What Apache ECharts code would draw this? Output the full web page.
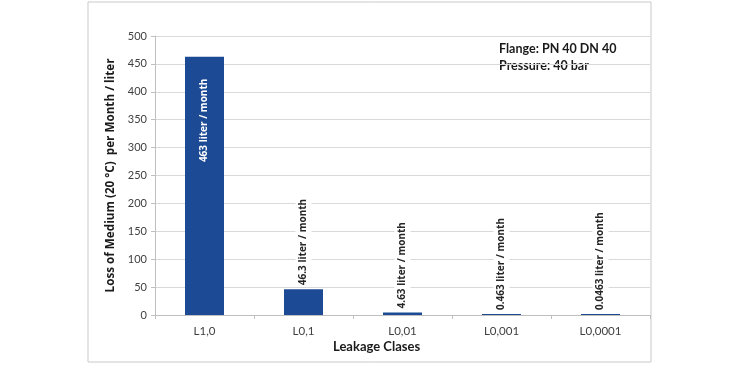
<!DOCTYPE html>
<html><head><meta charset="utf-8">
<script src="https://cdn.jsdelivr.net/npm/echarts@6/dist/echarts.min.js"></script>
<style>html,body{margin:0;padding:0;background:#fff}#c{width:730px;height:365px}</style>
</head><body><div id="c"></div>
<script>
const categories = ['L1,0', 'L0,1', 'L0,01', 'L0,001', 'L0,0001'];
const values = [463, 46.3, 4.63, 0.463, 0.0463];
const barLabels = ['463 liter / month', '46.3 liter / month', '4.63 liter / month', '0.463 liter / month', '0.0463 liter / month'];
const yTicks = [0, 50, 100, 150, 200, 250, 300, 350, 400, 450, 500];
const noteLines = ['Flange: PN 40 DN 40', 'Pressure: 40 bar'];

const chart = echarts.init(document.getElementById('c'), null, {renderer: 'canvas'});
const labelFont = 'Open Sans';
const data = values.map((v, i) => {
  if (i === 0) {
    return {value: v, label: {show: true, position: 'insideTop', rotate: 90, align: 'right', verticalAlign: 'middle', distance: 22,
      formatter: barLabels[i], color: '#ffffff', fontFamily: labelFont, fontWeight: 'bold', fontSize: 10}};
  }
  return {value: v, label: {show: true, position: 'top', rotate: 90, align: 'left', verticalAlign: 'middle', distance: 3,
    formatter: barLabels[i], color: '#262626', fontFamily: labelFont, fontWeight: 'bold', fontSize: 10,
    backgroundColor: '#ffffff', padding: [3, 1]}};
});
chart.setOption({
  animation: false,
  backgroundColor: '#ffffff',
  grid: {left: 155, right: 80, top: 36, bottom: 50},
  graphic: [
    {type: 'rect', shape: {x: 88, y: 2, width: 563, height: 360}, style: {fill: 'none', stroke: '#c9c9c9', lineWidth: 1}, z: 0},
    {type: 'text', left: 499, top: 42, style: {text: noteLines[0], font: 'bold 12.5px Lato', fill: '#1a1a1a'}},
    {type: 'text', left: 499, top: 59, style: {text: noteLines[1], font: 'bold 12.5px Lato', fill: '#1a1a1a'}},
    {type: 'text', left: 333, top: 340, style: {text: 'Leakage Clases', font: 'bold 13px Lato', fill: '#1a1a1a'}}
  ],
  xAxis: {
    type: 'category', data: categories,
    axisLine: {lineStyle: {color: '#bfbfbf'}},
    axisTick: {show: true, length: 4, lineStyle: {color: '#bfbfbf'}},
    axisLabel: {color: '#404040', fontFamily: 'Lato', fontSize: 11.5, margin: 10}
  },
  yAxis: {
    type: 'value', min: yTicks[0], max: yTicks[yTicks.length - 1], interval: 50,
    name: 'Loss of Medium (20 °C)  per Month / liter', nameLocation: 'middle', nameGap: 36,
    nameTextStyle: {fontFamily: 'Open Sans', fontWeight: 'bold', fontSize: 11.7, color: '#1a1a1a'},
    axisLine: {show: true, lineStyle: {color: '#bfbfbf'}},
    axisTick: {show: true, length: 4, lineStyle: {color: '#bfbfbf'}},
    axisLabel: {color: '#404040', fontFamily: 'Lato', fontSize: 11, margin: 8},
    splitLine: {lineStyle: {color: '#d9d9d9'}}
  },
  series: [{
    type: 'bar', data: data, barWidth: 39, barMinHeight: 1,
    itemStyle: {color: '#1c4a94'}
  }]
});
</script></body></html>
